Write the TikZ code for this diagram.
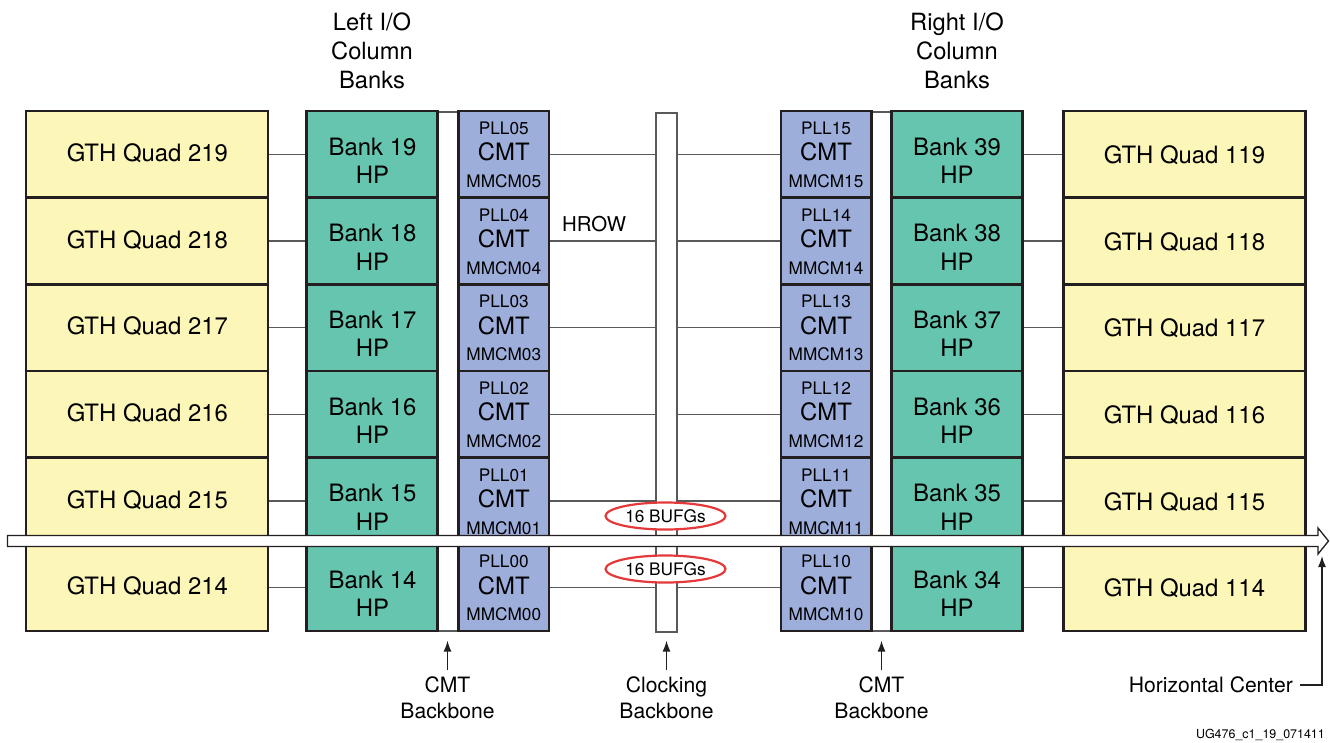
\documentclass[tikz,border=0pt]{standalone}
\usepackage{fontspec}
\setmainfont{TeX Gyre Heros}
\usetikzlibrary{arrows.meta,shapes.geometric,calc}
\definecolor{gthY}{HTML}{FCF6B9}
\definecolor{bankG}{HTML}{66C5AF}
\definecolor{cmtB}{HTML}{9EAEDB}
\definecolor{bdr}{HTML}{231F20}
\definecolor{lgray}{HTML}{58595B}
\definecolor{bufred}{HTML}{E4393B}
\begin{document}
\begin{tikzpicture}[x=1bp,y=-1bp,
 box/.style={draw=bdr, line width=2.5bp, inner sep=0pt, minimum height=86.67bp},
 gth/.style={box, fill=gthY, minimum width=242bp},
 bank/.style={box, fill=bankG, minimum width=131bp},
 cmt/.style={box, fill=cmtB, minimum width=90.5bp},
 strip/.style={draw=lgray, line width=1.2bp, fill=white, inner sep=0pt, minimum width=21bp, minimum height=519bp},
 big/.style={font=\fontsize{24}{28}\selectfont, inner sep=0pt, anchor=base},
 small/.style={font=\fontsize{17.3}{20}\selectfont, inner sep=0pt, anchor=base},
 wire/.style={draw=lgray, line width=1.3bp},
 lbl/.style={font=\fontsize{21.2}{26}\selectfont, inner sep=0pt, align=center, anchor=north},
 ttl/.style={font=\fontsize{23.8}{29}\selectfont, inner sep=0pt, align=center, anchor=north},
 ptr/.style={draw=bdr, line width=1.4bp, -{Latex[length=11bp,width=8bp]}},
 bufg/.style={ellipse, draw=bufred, line width=2.2bp, fill=white, minimum width=120bp, minimum height=27bp, inner sep=0pt, font=\fontsize{17.3}{20}\selectfont},
]
\useasboundingbox (0,0) rectangle (1330,742);

% backbones
\node[strip] (bbL) at (447.5,371.5) {};
\node[strip] (clk) at (666.5,372.5) {};
\node[strip] (bbR) at (881.5,371.5) {};

\foreach \i/\gl/\bl/\pl/\gr/\br/\pr in {0/219/19/05/119/39/15,1/218/18/04/118/38/14,2/217/17/03/117/37/13,3/216/16/02/116/36/12,4/215/15/01/115/35/11,5/214/14/00/114/34/10}{
  \pgfmathsetmacro\yc{154.33+86.67*\i}
  % nodes
  \node[gth] (gl\i) at (147,\yc) {};
  \node[bank] (bl\i) at (372,\yc) {};
  \node[cmt] (cl\i) at (503.75,\yc) {};
  \node[cmt] (cr\i) at (826,\yc) {};
  \node[bank] (br\i) at (957,\yc) {};
  \node[gth] (gr\i) at (1184.5,\yc) {};
  % connectors
  \draw[wire] (gl\i.east) -- (bl\i.west);
  \draw[wire] (cl\i.east) -- (cl\i.east -| clk.west);
  \draw[wire] (cr\i.west -| clk.east) -- (cr\i.west);
  \draw[wire] (br\i.east) -- (gr\i.west);
  % texts
  \node[big] (glt\i) at (147.5,{\yc+7.2}) {GTH Quad \gl};
  \node[big] (blt\i) at (372.5,{\yc+0.7}) {Bank \bl};
  \node[big] (blh\i) at (372.5,{\yc+29}) {HP};
  \node[small] (clp\i) at (503.75,{\yc-20}) {PLL\pl};
  \node[big] (clc\i) at (503.75,{\yc+6.4}) {CMT};
  \node[small] (clm\i) at (503.75,{\yc+33}) {MMCM\pl};
  \node[small] (crp\i) at (826,{\yc-20}) {PLL\pr};
  \node[big] (crc\i) at (826,{\yc+6.4}) {CMT};
  \node[small] (crm\i) at (826,{\yc+33}) {MMCM\pr};
  \node[big] (brt\i) at (957,{\yc+0.7}) {Bank \br};
  \node[big] (brh\i) at (957,{\yc+29}) {HP};
  \node[big] (grt\i) at (1184.5,{\yc+9.2}) {GTH Quad \gr};
}

% HROW label and BUFG ellipses
\node[font=\fontsize{20.5}{24}\selectfont, inner sep=0pt, anchor=west] (hrow) at (562,224) {HROW};
\node[bufg] (bufg1) at (665.5,516) {16 BUFGs};
\node[bufg] (bufg2) at (665.5,569) {16 BUFGs};

% horizontal center band arrow
\draw[draw=bdr, line width=1.3bp, fill=white] (7.5,535.5) -- (1318,535.5) -- (1318,528) -- (1328.5,541) -- (1318,554) -- (1318,546.5) -- (7.5,546.5) -- cycle;

% titles
\node[ttl] (ttlL) at (372,13) {Left I/O\\Column\\Banks};
\node[ttl] (ttlR) at (957,13) {Right I/O\\Column\\Banks};

% bottom labels and pointers
\node[lbl] (lbL) at (447.5,677) {CMT\\Backbone};
\node[lbl] (lbC) at (666.5,677) {Clocking\\Backbone};
\node[lbl] (lbR) at (881.5,677) {CMT\\Backbone};
\draw[ptr] ([yshift=7bp]lbL.north) -- ([yshift=-9bp]bbL.south);
\draw[ptr] ([yshift=7bp]lbC.north) -- ([yshift=-8bp]clk.south);
\draw[ptr] ([yshift=7bp]lbR.north) -- ([yshift=-9bp]bbR.south);

\node[font=\fontsize{21.2}{26}\selectfont, inner sep=0pt, anchor=east] (hcl) at (1293,685) {Horizontal Center};
\coordinate (hcp) at (1322,556);
\draw[ptr] ([xshift=7bp]hcl.east) -- (hcl.east -| hcp) -- (hcp);

\node[font=\fontsize{12.5}{15}\selectfont, inner sep=0pt, anchor=base east] (fn) at (1325,738) {UG476\_c1\_19\_071411};
\end{tikzpicture}
\end{document}
